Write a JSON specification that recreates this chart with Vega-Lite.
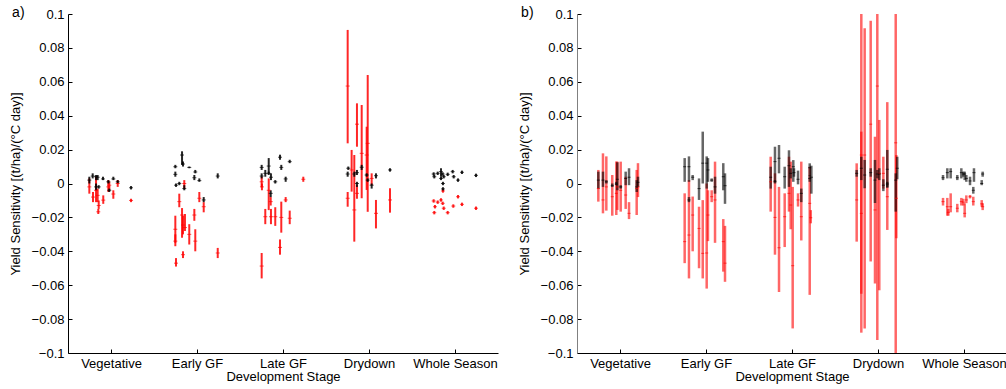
{
  "$schema": "https://vega.github.io/schema/vega-lite/v6.json",
  "padding": {"left": 9, "top": 6, "right": 2, "bottom": 2},
  "spacing": 20,
  "config": {
    "font": "Liberation Sans",
    "view": {"stroke": null},
    "axis": {"grid": false, "labelFontSize": 13, "titleFontSize": 13, "titleFontWeight": "normal", "labelColor": "#000", "titleColor": "#000", "domainColor": "#000", "tickColor": "#000", "tickSize": -4, "labelPadding": 8, "domainWidth": 1, "tickWidth": 1},
    "axisX": {"titlePadding": 0, "labelPadding": 8},
    "axisY": {"titlePadding": 9, "labelPadding": 8},
    "title": {"fontSize": 14, "fontWeight": "normal", "anchor": "start", "frame": "bounds", "offset": -12, "dx": 3, "color": "#000"}
  },
  "datasets": {
    "a": [
      {"x":0.748,"y":-0.002,"lo":-0.006,"hi":0.003,"c":"r"},
      {"x":0.791,"y":-0.008,"lo":-0.011,"hi":-0.005,"c":"r"},
      {"x":0.826,"y":-0.004,"lo":-0.011,"hi":0.004,"c":"r"},
      {"x":0.845,"y":-0.007,"lo":-0.011,"hi":-0.003,"c":"r"},
      {"x":0.857,"y":-0.013,"lo":-0.015,"hi":-0.010,"c":"r"},
      {"x":0.852,"y":-0.0167,"lo":-0.018,"hi":-0.015,"c":"r"},
      {"x":0.910,"y":-0.0098,"lo":-0.012,"hi":-0.007,"c":"r"},
      {"x":0.969,"y":-0.002,"lo":-0.005,"hi":0.002,"c":"r"},
      {"x":0.980,"y":-0.001,"lo":-0.004,"hi":0.001,"c":"r"},
      {"x":1.027,"y":-0.0062,"lo":-0.009,"hi":-0.004,"c":"r"},
      {"x":1.078,"y":0,"lo":-0.002,"hi":0.002,"c":"r"},
      {"x":1.233,"y":-0.010,"lo":-0.011,"hi":-0.009,"c":"r"},
      {"x":1.748,"y":-0.027,"lo":-0.035,"hi":-0.019,"c":"r"},
      {"x":1.748,"y":-0.034,"lo":-0.037,"hi":-0.030,"c":"r"},
      {"x":1.756,"y":-0.047,"lo":-0.049,"hi":-0.044,"c":"r"},
      {"x":1.794,"y":-0.0107,"lo":-0.014,"hi":-0.006,"c":"r"},
      {"x":1.826,"y":-0.0186,"lo":-0.032,"hi":-0.0145,"c":"r"},
      {"x":1.837,"y":-0.0245,"lo":-0.030,"hi":-0.019,"c":"r"},
      {"x":1.852,"y":0,"lo":-0.003,"hi":0.002,"c":"r"},
      {"x":1.837,"y":-0.042,"lo":-0.044,"hi":-0.040,"c":"r"},
      {"x":1.860,"y":-0.026,"lo":-0.028,"hi":-0.018,"c":"r"},
      {"x":1.910,"y":-0.030,"lo":-0.036,"hi":-0.024,"c":"r"},
      {"x":1.969,"y":-0.0186,"lo":-0.022,"hi":-0.015,"c":"r"},
      {"x":1.980,"y":-0.034,"lo":-0.040,"hi":-0.027,"c":"r"},
      {"x":2.027,"y":-0.0087,"lo":-0.011,"hi":-0.005,"c":"r"},
      {"x":2.078,"y":-0.0137,"lo":-0.017,"hi":-0.011,"c":"r"},
      {"x":2.241,"y":-0.041,"lo":-0.044,"hi":-0.038,"c":"r"},
      {"x":2.752,"y":0.001,"lo":-0.002,"hi":0.004,"c":"r"},
      {"x":2.755,"y":-0.002,"lo":-0.004,"hi":0,"c":"r"},
      {"x":2.752,"y":-0.0487,"lo":-0.056,"hi":-0.041,"c":"r"},
      {"x":2.834,"y":-0.004,"lo":-0.0157,"hi":0.003,"c":"r"},
      {"x":2.857,"y":-0.0107,"lo":-0.013,"hi":-0.008,"c":"r"},
      {"x":2.794,"y":-0.0196,"lo":-0.024,"hi":-0.015,"c":"r"},
      {"x":2.860,"y":-0.0196,"lo":-0.024,"hi":-0.015,"c":"r"},
      {"x":2.910,"y":-0.0196,"lo":-0.025,"hi":-0.014,"c":"r"},
      {"x":2.980,"y":-0.020,"lo":-0.029,"hi":-0.0107,"c":"r"},
      {"x":2.965,"y":-0.0377,"lo":-0.042,"hi":-0.033,"c":"r"},
      {"x":3.031,"y":-0.0097,"lo":-0.011,"hi":-0.008,"c":"r"},
      {"x":3.078,"y":-0.0205,"lo":-0.024,"hi":-0.016,"c":"r"},
      {"x":3.236,"y":0.0025,"lo":0.001,"hi":0.004,"c":"r"},
      {"x":3.752,"y":0.0575,"lo":0.0237,"hi":0.0906,"c":"r"},
      {"x":3.752,"y":-0.0087,"lo":-0.0137,"hi":-0.005,"c":"r"},
      {"x":3.798,"y":0.008,"lo":-0.0048,"hi":0.0198,"c":"r"},
      {"x":3.829,"y":-0.0156,"lo":-0.0343,"hi":0.0168,"c":"r"},
      {"x":3.860,"y":0.035,"lo":0.0217,"hi":0.0473,"c":"r"},
      {"x":3.860,"y":-0.0058,"lo":-0.009,"hi":-0.001,"c":"r"},
      {"x":3.915,"y":0.0178,"lo":-0.0087,"hi":0.0463,"c":"r"},
      {"x":3.973,"y":0.0168,"lo":-0.0038,"hi":0.0335,"c":"r"},
      {"x":3.985,"y":0.0237,"lo":-0.0167,"hi":0.064,"c":"r"},
      {"x":4.031,"y":0.003,"lo":-0.001,"hi":0.006,"c":"r"},
      {"x":4.081,"y":-0.0176,"lo":-0.0265,"hi":-0.0097,"c":"r"},
      {"x":4.244,"y":-0.0097,"lo":-0.0172,"hi":-0.0028,"c":"r"},
      {"x":4.752,"y":-0.0103,"lo":-0.0113,"hi":-0.0093,"c":"r"},
      {"x":4.759,"y":-0.0172,"lo":-0.0182,"hi":-0.0162,"c":"r"},
      {"x":4.767,"y":-0.0137,"lo":-0.0147,"hi":-0.0127,"c":"r"},
      {"x":4.799,"y":-0.011,"lo":-0.012,"hi":-0.010,"c":"r"},
      {"x":4.837,"y":-0.0097,"lo":-0.0107,"hi":-0.0087,"c":"r"},
      {"x":4.857,"y":-0.0117,"lo":-0.0127,"hi":-0.0107,"c":"r"},
      {"x":4.860,"y":-0.0044,"lo":-0.0054,"hi":-0.0034,"c":"r"},
      {"x":4.869,"y":-0.0146,"lo":-0.0156,"hi":-0.0136,"c":"r"},
      {"x":4.915,"y":-0.0172,"lo":-0.0182,"hi":-0.0162,"c":"r"},
      {"x":4.980,"y":-0.0133,"lo":-0.0143,"hi":-0.0123,"c":"r"},
      {"x":5.035,"y":-0.0078,"lo":-0.0088,"hi":-0.0068,"c":"r"},
      {"x":5.081,"y":-0.0123,"lo":-0.0133,"hi":-0.0113,"c":"r"},
      {"x":5.244,"y":-0.0146,"lo":-0.0156,"hi":-0.0136,"c":"r"},
      {"x":0.748,"y":0.002,"lo":0.0,"hi":0.004,"c":"k"},
      {"x":0.787,"y":0.0044,"lo":0.003,"hi":0.006,"c":"k"},
      {"x":0.826,"y":0.004,"lo":0.002,"hi":0.005,"c":"k"},
      {"x":0.826,"y":-0.002,"lo":-0.004,"hi":0.0,"c":"k"},
      {"x":0.845,"y":0.0037,"lo":0.002,"hi":0.005,"c":"k"},
      {"x":0.857,"y":-0.002,"lo":-0.003,"hi":-0.001,"c":"k"},
      {"x":0.907,"y":0.0027,"lo":0.002,"hi":0.004,"c":"k"},
      {"x":0.969,"y":0.001,"lo":0.0,"hi":0.002,"c":"k"},
      {"x":0.980,"y":-0.004,"lo":-0.005,"hi":-0.003,"c":"k"},
      {"x":1.027,"y":0.0027,"lo":0.002,"hi":0.004,"c":"k"},
      {"x":1.078,"y":0.001,"lo":0.0,"hi":0.002,"c":"k"},
      {"x":1.233,"y":-0.0025,"lo":-0.0035,"hi":-0.0015,"c":"k"},
      {"x":1.748,"y":0.0099,"lo":0.009,"hi":0.011,"c":"k"},
      {"x":1.748,"y":0.0054,"lo":0.004,"hi":0.007,"c":"k"},
      {"x":1.756,"y":-0.001,"lo":-0.002,"hi":0.0,"c":"k"},
      {"x":1.794,"y":0,"lo":-0.001,"hi":0.001,"c":"k"},
      {"x":1.826,"y":0.0168,"lo":0.011,"hi":0.019,"c":"k"},
      {"x":1.837,"y":0.0115,"lo":0.010,"hi":0.013,"c":"k"},
      {"x":1.852,"y":-0.003,"lo":-0.004,"hi":-0.001,"c":"k"},
      {"x":1.910,"y":0.0095,"lo":0.009,"hi":0.010,"c":"k"},
      {"x":1.969,"y":0.0034,"lo":0.002,"hi":0.005,"c":"k"},
      {"x":1.980,"y":0.0068,"lo":0.006,"hi":0.008,"c":"k"},
      {"x":2.027,"y":0.0017,"lo":0.001,"hi":0.003,"c":"k"},
      {"x":2.078,"y":-0.0097,"lo":-0.011,"hi":-0.008,"c":"k"},
      {"x":2.241,"y":0.0044,"lo":0.003,"hi":0.006,"c":"k"},
      {"x":2.752,"y":0.0095,"lo":0.008,"hi":0.011,"c":"k"},
      {"x":2.752,"y":0.0044,"lo":0.003,"hi":0.006,"c":"k"},
      {"x":2.794,"y":0.006,"lo":0.004,"hi":0.008,"c":"k"},
      {"x":2.834,"y":0.0103,"lo":0.006,"hi":0.015,"c":"k"},
      {"x":2.834,"y":0.006,"lo":0.005,"hi":0.007,"c":"k"},
      {"x":2.860,"y":0.0037,"lo":0.002,"hi":0.006,"c":"k"},
      {"x":2.857,"y":-0.0058,"lo":-0.008,"hi":-0.004,"c":"k"},
      {"x":2.910,"y":0.001,"lo":0.0,"hi":0.002,"c":"k"},
      {"x":2.965,"y":0.0155,"lo":0.014,"hi":0.017,"c":"k"},
      {"x":2.980,"y":0.0095,"lo":0.008,"hi":0.011,"c":"k"},
      {"x":3.031,"y":0.0027,"lo":0.001,"hi":0.004,"c":"k"},
      {"x":3.078,"y":0.0129,"lo":0.012,"hi":0.014,"c":"k"},
      {"x":3.752,"y":0.0056,"lo":0.004,"hi":0.007,"c":"k"},
      {"x":3.759,"y":0.009,"lo":0.008,"hi":0.010,"c":"k"},
      {"x":3.829,"y":0.0056,"lo":0.004,"hi":0.007,"c":"k"},
      {"x":3.860,"y":0.0064,"lo":0.005,"hi":0.008,"c":"k"},
      {"x":3.860,"y":0,"lo":-0.002,"hi":0.001,"c":"k"},
      {"x":3.915,"y":0.0096,"lo":0.008,"hi":0.011,"c":"k"},
      {"x":3.973,"y":0.005,"lo":0.004,"hi":0.006,"c":"k"},
      {"x":3.985,"y":0.002,"lo":0.001,"hi":0.003,"c":"k"},
      {"x":4.031,"y":-0.001,"lo":-0.003,"hi":0.0,"c":"k"},
      {"x":4.081,"y":0.0046,"lo":0.003,"hi":0.006,"c":"k"},
      {"x":4.244,"y":0.008,"lo":0.007,"hi":0.009,"c":"k"},
      {"x":4.752,"y":0.0056,"lo":0.0046,"hi":0.0066,"c":"k"},
      {"x":4.759,"y":0.004,"lo":0.003,"hi":0.005,"c":"k"},
      {"x":4.799,"y":0.006,"lo":0.005,"hi":0.007,"c":"k"},
      {"x":4.837,"y":0.007,"lo":0.004,"hi":0.009,"c":"k"},
      {"x":4.837,"y":0.003,"lo":0.002,"hi":0.004,"c":"k"},
      {"x":4.857,"y":0.0056,"lo":0.0046,"hi":0.0066,"c":"k"},
      {"x":4.869,"y":0.004,"lo":0.003,"hi":0.005,"c":"k"},
      {"x":4.860,"y":0,"lo":-0.001,"hi":0.001,"c":"k"},
      {"x":4.860,"y":-0.0032,"lo":-0.0042,"hi":-0.0022,"c":"k"},
      {"x":4.915,"y":0.0054,"lo":0.0044,"hi":0.0064,"c":"k"},
      {"x":4.973,"y":0.007,"lo":0.006,"hi":0.008,"c":"k"},
      {"x":4.985,"y":0.004,"lo":0.003,"hi":0.005,"c":"k"},
      {"x":5.035,"y":0.002,"lo":0.001,"hi":0.003,"c":"k"},
      {"x":5.081,"y":0.0066,"lo":0.0056,"hi":0.0076,"c":"k"},
      {"x":5.244,"y":0.0048,"lo":0.0038,"hi":0.0058,"c":"k"}
    ],
    "b": [
      {"x":0.748,"y":-0.003,"lo":-0.0107,"hi":0.008,"c":"r"},
      {"x":0.802,"y":-0.0097,"lo":-0.0176,"hi":0.0178,"c":"r"},
      {"x":0.841,"y":-0.002,"lo":-0.016,"hi":0.016,"c":"r"},
      {"x":0.910,"y":-0.0078,"lo":-0.019,"hi":0.005,"c":"r"},
      {"x":0.957,"y":-0.0058,"lo":-0.0186,"hi":0.013,"c":"r"},
      {"x":0.969,"y":-0.002,"lo":-0.0156,"hi":0.0129,"c":"r"},
      {"x":1.008,"y":-0.004,"lo":-0.0166,"hi":0.0129,"c":"r"},
      {"x":1.066,"y":-0.0068,"lo":-0.015,"hi":0.004,"c":"r"},
      {"x":1.105,"y":-0.0176,"lo":-0.021,"hi":-0.011,"c":"r"},
      {"x":1.194,"y":-0.003,"lo":-0.0186,"hi":0.008,"c":"r"},
      {"x":1.209,"y":-0.002,"lo":-0.008,"hi":0.012,"c":"r"},
      {"x":1.752,"y":-0.0343,"lo":-0.047,"hi":-0.0058,"c":"r"},
      {"x":1.802,"y":-0.0304,"lo":-0.056,"hi":0.002,"c":"r"},
      {"x":1.845,"y":-0.0186,"lo":-0.040,"hi":-0.0077,"c":"r"},
      {"x":1.919,"y":-0.0265,"lo":-0.050,"hi":-0.0137,"c":"r"},
      {"x":1.962,"y":-0.0412,"lo":-0.056,"hi":-0.0098,"c":"r"},
      {"x":2.008,"y":-0.041,"lo":-0.062,"hi":0.0,"c":"r"},
      {"x":2.023,"y":-0.0186,"lo":-0.034,"hi":-0.004,"c":"r"},
      {"x":2.066,"y":-0.0078,"lo":-0.011,"hi":-0.004,"c":"r"},
      {"x":2.105,"y":-0.0097,"lo":-0.035,"hi":0.0129,"c":"r"},
      {"x":2.201,"y":-0.0343,"lo":-0.052,"hi":-0.021,"c":"r"},
      {"x":2.221,"y":-0.047,"lo":-0.058,"hi":-0.025,"c":"r"},
      {"x":2.752,"y":0.001,"lo":-0.0166,"hi":0.0158,"c":"r"},
      {"x":2.802,"y":-0.020,"lo":-0.042,"hi":0.006,"c":"r"},
      {"x":2.849,"y":-0.0379,"lo":-0.064,"hi":-0.002,"c":"r"},
      {"x":2.915,"y":-0.0196,"lo":-0.0375,"hi":-0.0058,"c":"r"},
      {"x":2.965,"y":-0.0058,"lo":-0.0166,"hi":0.0158,"c":"r"},
      {"x":2.985,"y":-0.0127,"lo":-0.027,"hi":0.0129,"c":"r"},
      {"x":3.008,"y":-0.0485,"lo":-0.0855,"hi":-0.002,"c":"r"},
      {"x":3.070,"y":-0.0097,"lo":-0.0136,"hi":-0.0058,"c":"r"},
      {"x":3.108,"y":-0.0196,"lo":-0.0336,"hi":0.0129,"c":"r"},
      {"x":3.206,"y":-0.0117,"lo":-0.0657,"hi":0.0099,"c":"r"},
      {"x":3.218,"y":-0.0202,"lo":-0.0235,"hi":-0.0157,"c":"r"},
      {"x":3.752,"y":-0.0097,"lo":-0.0343,"hi":0.0119,"c":"r"},
      {"x":3.806,"y":-0.0176,"lo":-0.088,"hi":0.0306,"c":"r"},
      {"x":3.806,"y":0.0168,"lo":-0.065,"hi":0.1,"c":"r"},
      {"x":3.845,"y":0.0168,"lo":-0.0855,"hi":0.0916,"c":"r"},
      {"x":3.915,"y":0.035,"lo":-0.046,"hi":0.096,"c":"r"},
      {"x":3.965,"y":-0.0156,"lo":-0.059,"hi":0.0276,"c":"r"},
      {"x":3.992,"y":0.0575,"lo":-0.0924,"hi":0.1,"c":"r"},
      {"x":4.015,"y":0.006,"lo":-0.063,"hi":0.0375,"c":"r"},
      {"x":4.062,"y":0.006,"lo":-0.003,"hi":0.0158,"c":"r"},
      {"x":4.108,"y":-0.0078,"lo":-0.0274,"hi":0.048,"c":"r"},
      {"x":4.206,"y":0.024,"lo":-0.1,"hi":0.1,"c":"r"},
      {"x":4.213,"y":-0.0087,"lo":-0.0323,"hi":0.0168,"c":"r"},
      {"x":4.756,"y":-0.0107,"lo":-0.013,"hi":-0.0085,"c":"r"},
      {"x":4.806,"y":-0.0137,"lo":-0.019,"hi":-0.0085,"c":"r"},
      {"x":4.818,"y":-0.017,"lo":-0.019,"hi":-0.015,"c":"r"},
      {"x":4.845,"y":-0.0137,"lo":-0.017,"hi":-0.0058,"c":"r"},
      {"x":4.922,"y":-0.0146,"lo":-0.017,"hi":-0.012,"c":"r"},
      {"x":4.969,"y":-0.0107,"lo":-0.013,"hi":-0.0085,"c":"r"},
      {"x":4.992,"y":-0.011,"lo":-0.013,"hi":-0.009,"c":"r"},
      {"x":5.008,"y":-0.0176,"lo":-0.020,"hi":-0.0117,"c":"r"},
      {"x":5.027,"y":-0.0097,"lo":-0.0116,"hi":-0.007,"c":"r"},
      {"x":5.070,"y":-0.0078,"lo":-0.0088,"hi":-0.0068,"c":"r"},
      {"x":5.108,"y":-0.0107,"lo":-0.013,"hi":-0.0078,"c":"r"},
      {"x":5.206,"y":-0.012,"lo":-0.0137,"hi":-0.0098,"c":"r"},
      {"x":5.217,"y":-0.0137,"lo":-0.0157,"hi":-0.0117,"c":"r"},
      {"x":0.748,"y":0.002,"lo":-0.003,"hi":0.007,"c":"k"},
      {"x":0.802,"y":0.002,"lo":-0.002,"hi":0.007,"c":"k"},
      {"x":0.841,"y":0.001,"lo":0.0,"hi":0.002,"c":"k"},
      {"x":0.910,"y":-0.0013,"lo":-0.002,"hi":0.0,"c":"k"},
      {"x":0.957,"y":-0.0003,"lo":-0.001,"hi":0.001,"c":"k"},
      {"x":0.969,"y":0.0025,"lo":-0.004,"hi":0.0125,"c":"k"},
      {"x":1.008,"y":-0.002,"lo":-0.003,"hi":-0.001,"c":"k"},
      {"x":1.066,"y":0.003,"lo":-0.001,"hi":0.007,"c":"k"},
      {"x":1.105,"y":0.0037,"lo":-0.001,"hi":0.009,"c":"k"},
      {"x":1.194,"y":-0.002,"lo":-0.005,"hi":0.002,"c":"k"},
      {"x":1.209,"y":0.0007,"lo":-0.002,"hi":0.004,"c":"k"},
      {"x":1.752,"y":0.0099,"lo":0.001,"hi":0.015,"c":"k"},
      {"x":1.802,"y":0.0099,"lo":0.001,"hi":0.016,"c":"k"},
      {"x":1.845,"y":0.0037,"lo":0.002,"hi":0.005,"c":"k"},
      {"x":1.802,"y":-0.0097,"lo":-0.011,"hi":-0.008,"c":"k"},
      {"x":1.919,"y":-0.003,"lo":-0.0097,"hi":0.003,"c":"k"},
      {"x":1.962,"y":0.012,"lo":0.0,"hi":0.0306,"c":"k"},
      {"x":2.008,"y":0.012,"lo":-0.003,"hi":0.016,"c":"k"},
      {"x":2.023,"y":0.008,"lo":0.001,"hi":0.015,"c":"k"},
      {"x":2.066,"y":0.002,"lo":0.001,"hi":0.003,"c":"k"},
      {"x":2.105,"y":-0.002,"lo":-0.006,"hi":0.004,"c":"k"},
      {"x":2.201,"y":0.004,"lo":-0.004,"hi":0.012,"c":"k"},
      {"x":2.221,"y":-0.0013,"lo":-0.012,"hi":0.006,"c":"k"},
      {"x":2.752,"y":0.0037,"lo":-0.003,"hi":0.0099,"c":"k"},
      {"x":2.802,"y":0.0129,"lo":0.001,"hi":0.0217,"c":"k"},
      {"x":2.802,"y":0.001,"lo":0.0,"hi":0.002,"c":"k"},
      {"x":2.849,"y":0.0149,"lo":0.006,"hi":0.0227,"c":"k"},
      {"x":2.915,"y":0.004,"lo":-0.003,"hi":0.0099,"c":"k"},
      {"x":2.965,"y":0.0105,"lo":-0.002,"hi":0.0196,"c":"k"},
      {"x":2.985,"y":0.006,"lo":0.003,"hi":0.009,"c":"k"},
      {"x":3.015,"y":0.0099,"lo":0.001,"hi":0.0138,"c":"k"},
      {"x":3.023,"y":0.0064,"lo":0.004,"hi":0.009,"c":"k"},
      {"x":3.070,"y":0.0025,"lo":-0.0005,"hi":0.0076,"c":"k"},
      {"x":3.108,"y":-0.0058,"lo":-0.011,"hi":-0.003,"c":"k"},
      {"x":3.206,"y":0.0093,"lo":0.0046,"hi":0.0119,"c":"k"},
      {"x":3.206,"y":0.003,"lo":0.001,"hi":0.005,"c":"k"},
      {"x":3.225,"y":0.0037,"lo":-0.006,"hi":0.0105,"c":"k"},
      {"x":3.752,"y":0.006,"lo":0.004,"hi":0.008,"c":"k"},
      {"x":3.806,"y":0.009,"lo":0.002,"hi":0.0158,"c":"k"},
      {"x":3.845,"y":0.005,"lo":-0.0028,"hi":0.0139,"c":"k"},
      {"x":3.915,"y":0.0064,"lo":0.004,"hi":0.009,"c":"k"},
      {"x":3.965,"y":0.002,"lo":-0.0115,"hi":0.0139,"c":"k"},
      {"x":3.992,"y":0.0056,"lo":0.003,"hi":0.008,"c":"k"},
      {"x":4.015,"y":0.0056,"lo":0.002,"hi":0.009,"c":"k"},
      {"x":4.062,"y":-0.001,"lo":-0.0045,"hi":0.0025,"c":"k"},
      {"x":4.108,"y":0.0084,"lo":-0.0026,"hi":0.0198,"c":"k"},
      {"x":4.108,"y":-0.0003,"lo":-0.002,"hi":0.001,"c":"k"},
      {"x":4.206,"y":0.002,"lo":-0.0166,"hi":0.006,"c":"k"},
      {"x":4.224,"y":0.009,"lo":0.0025,"hi":0.0158,"c":"k"},
      {"x":4.756,"y":0.0034,"lo":0.002,"hi":0.005,"c":"k"},
      {"x":4.806,"y":0.0064,"lo":0.003,"hi":0.009,"c":"k"},
      {"x":4.845,"y":0.007,"lo":0.003,"hi":0.009,"c":"k"},
      {"x":4.922,"y":0.0034,"lo":0.002,"hi":0.005,"c":"k"},
      {"x":4.969,"y":0.0064,"lo":0.003,"hi":0.009,"c":"k"},
      {"x":4.992,"y":0.0056,"lo":0.004,"hi":0.007,"c":"k"},
      {"x":5.008,"y":0.0056,"lo":0.002,"hi":0.007,"c":"k"},
      {"x":5.027,"y":0.003,"lo":0.001,"hi":0.005,"c":"k"},
      {"x":5.070,"y":0.0015,"lo":-0.001,"hi":0.004,"c":"k"},
      {"x":5.108,"y":-0.004,"lo":-0.006,"hi":-0.002,"c":"k"},
      {"x":5.116,"y":0.0064,"lo":0.001,"hi":0.009,"c":"k"},
      {"x":5.206,"y":0,"lo":-0.001,"hi":0.002,"c":"k"},
      {"x":5.217,"y":0.0056,"lo":0.004,"hi":0.007,"c":"k"}
    ]
  },
  "hconcat": [
    {
      "width": 430, "height": 339,
      "title": {"text": "a)"},
      "data": {"name": "a"},
      "encoding": {
        "x": {"field": "x", "type": "quantitative", "scale": {"domain": [0.5, 5.5], "nice": false, "zero": false},
              "axis": {"title": "Development Stage", "values": [1,2,3,4,5], "labelExpr": "['','Vegetative','Early GF','Late GF','Drydown','Whole Season'][datum.value]"}},
        "color": {"field": "c", "type": "nominal", "scale": {"domain": ["k","r"], "range": ["#000000","#ff0000"]}, "legend": null}
      },
      "layer": [
        {"mark": {"type": "rule", "strokeWidth": 2, "opacity": 0.85},
         "encoding": {
           "y": {"field": "lo", "type": "quantitative", "title": "Yield Sensitivity [(t/ha)/(°C day)]", "scale": {"domain": [-0.1, 0.1], "nice": false}, "axis": {"values": [-0.1,-0.08,-0.06,-0.04,-0.02,0,0.02,0.04,0.06,0.08,0.1], "format": "~g"}},
           "y2": {"field": "hi"}}},
        {"mark": {"type": "tick", "orient": "horizontal", "size": 4, "thickness": 1},
         "encoding": {
           "y": {"field": "y", "type": "quantitative", "title": "Yield Sensitivity [(t/ha)/(°C day)]", "scale": {"domain": [-0.1, 0.1], "nice": false}, "axis": {"values": [-0.1,-0.08,-0.06,-0.04,-0.02,0,0.02,0.04,0.06,0.08,0.1], "format": "~g"}}}}
      ]
    },
    {
      "width": 430, "height": 339,
      "title": {"text": "b)"},
      "data": {"name": "b"},
      "encoding": {
        "x": {"field": "x", "type": "quantitative", "scale": {"domain": [0.5, 5.5], "nice": false, "zero": false},
              "axis": {"title": "Development Stage", "values": [1,2,3,4,5], "labelExpr": "['','Vegetative','Early GF','Late GF','Drydown','Whole Season'][datum.value]"}},
        "color": {"field": "c", "type": "nominal", "scale": {"domain": ["k","r"], "range": ["#000000","#ff0000"]}, "legend": null}
      },
      "layer": [
        {"mark": {"type": "rule", "strokeWidth": 2.5, "opacity": 0.6},
         "encoding": {
           "y": {"field": "lo", "type": "quantitative", "title": "Yield Sensitivity [(t/ha)/(°C day)]", "scale": {"domain": [-0.1, 0.1], "nice": false}, "axis": {"values": [-0.1,-0.08,-0.06,-0.04,-0.02,0,0.02,0.04,0.06,0.08,0.1], "format": "~g", "domainColor": "#808080"}},
           "y2": {"field": "hi"}}},
        {"mark": {"type": "tick", "orient": "horizontal", "size": 3, "thickness": 1},
         "encoding": {
           "y": {"field": "y", "type": "quantitative", "title": "Yield Sensitivity [(t/ha)/(°C day)]", "scale": {"domain": [-0.1, 0.1], "nice": false}, "axis": {"values": [-0.1,-0.08,-0.06,-0.04,-0.02,0,0.02,0.04,0.06,0.08,0.1], "format": "~g", "domainColor": "#808080"}}}}
      ]
    }
  ]
}
